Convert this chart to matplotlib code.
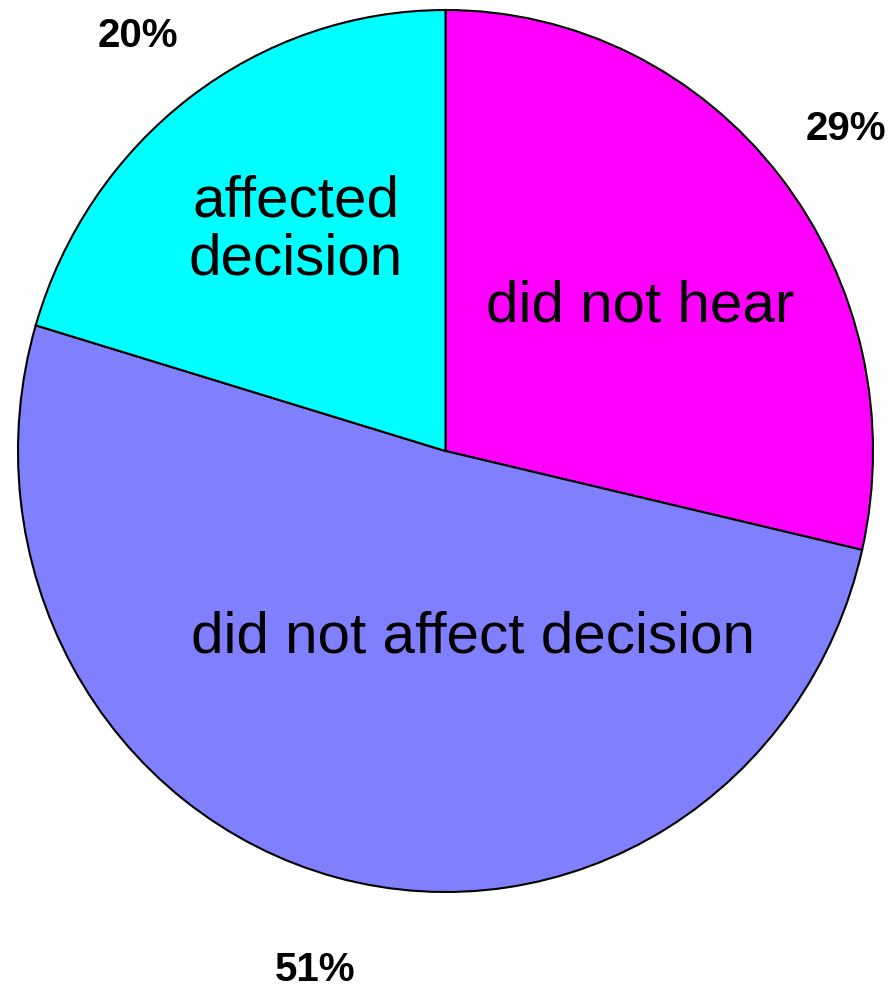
import numpy as np
import matplotlib
matplotlib.use("Agg")
import matplotlib.pyplot as plt

plt.rcParams['font.family'] = ['Liberation Sans', 'DejaVu Sans']

categories = ["did not hear", "did not affect decision", "affected\ndecision"]
shares = [28.6, 51.0, 20.4]
pct_labels = ["29%", "51%", "20%"]
colors = ["#ff00ff", "#8080ff", "#00ffff"]

# label positions in pie data units (radius = 1)
inner_pos = [(0.456, 0.327), (0.065, -0.423), (-0.35, 0.50)]
pct_pos = [(0.936, 0.73), (-0.304, -1.177), (-0.72, 0.94)]

fig = plt.figure(figsize=(8.88, 9.9), dpi=100)
ax = fig.add_axes([18 / 888, 98 / 990, 855 / 888, 882 / 990])

wedges, _ = ax.pie(shares, colors=colors, startangle=90, counterclock=False,
                   wedgeprops=dict(edgecolor="black", linewidth=1.5))
ax.set_aspect('auto')
ax.set_xlim(-1, 1)
ax.set_ylim(-1, 1)
ax.axis('off')

for name, (x, y) in zip(categories, inner_pos):
    ax.text(x, y, name, ha='center', va='center', fontsize=42,
            linespacing=1.08)

for lab, (x, y) in zip(pct_labels, pct_pos):
    ax.text(x, y, lab, ha='center', va='center', fontsize=29,
            fontweight='bold')

fig.savefig("out.png", dpi=100)
